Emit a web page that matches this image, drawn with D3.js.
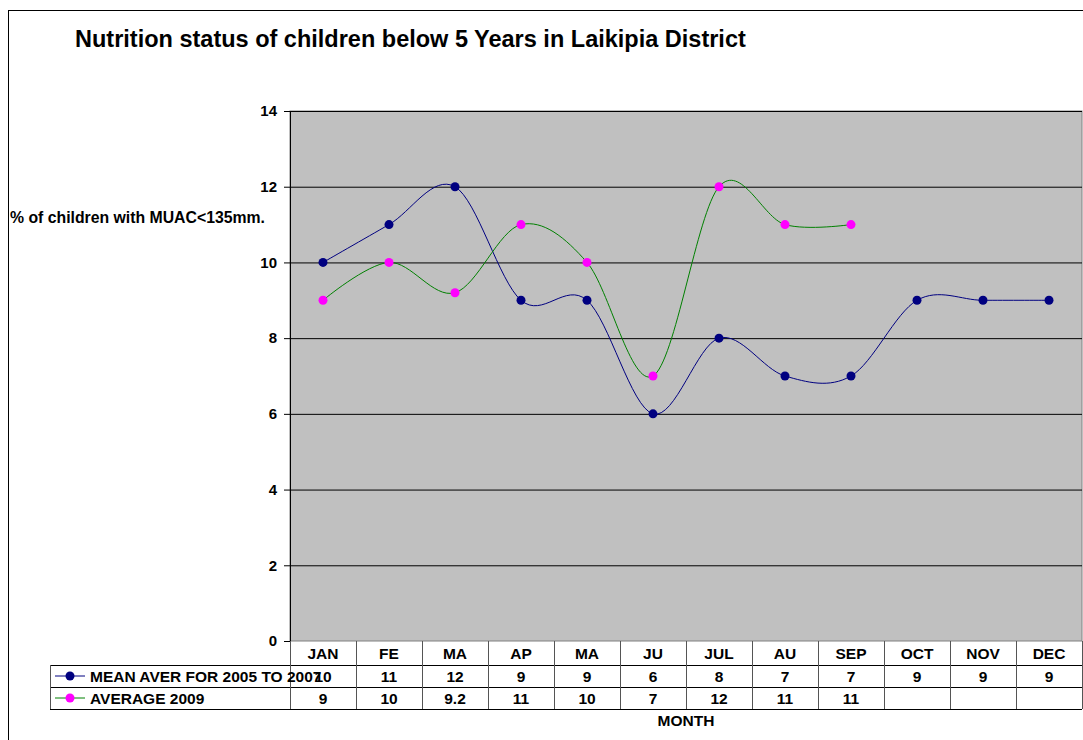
<!DOCTYPE html>
<html>
<head>
<meta charset="utf-8">
<script src="https://cdn.jsdelivr.net/npm/d3@7"></script>
<style>
  body { margin: 0; background: #fff; }
  svg text { font-family: "Liberation Sans", Arial, sans-serif; font-weight: bold; fill: #000; }
</style>
</head>
<body>
<div id="chart"></div>
<script>
// data
const months = ["JAN", "FE", "MA", "AP", "MA", "JU", "JUL", "AU", "SEP", "OCT", "NOV", "DEC"];
const meanAver = [10, 11, 12, 9, 9, 6, 8, 7, 7, 9, 9, 9];
const average2009 = [9, 10, 9.2, 11, 10, 7, 12, 11, 11, null, null, null];
const yTicks = [0, 2, 4, 6, 8, 10, 12, 14];
const seriesNames = ["MEAN AVER FOR 2005 TO 2007", "AVERAGE 2009"];

const width = 1083, height = 740;
const plot = {left: 290, right: 1082, top: 111, bottom: 641};

const svg = d3.select("#chart").append("svg")
    .attr("width", width)
    .attr("height", height);

// outer chart frame
svg.append("rect")
    .attr("x", 8.5).attr("y", 10.5)
    .attr("width", 1100).attr("height", 760)
    .attr("fill", "none").attr("stroke", "#000").attr("stroke-width", 1);

svg.append("text")
    .attr("x", 75).attr("y", 47)
    .style("font-size", "23.5px")
    .text("Nutrition status of children below 5 Years in Laikipia District");

const x = d3.scaleBand()
    .domain(d3.range(months.length))
    .range([plot.left, plot.right]);

const y = d3.scaleLinear()
    .domain([0, 14])
    .range([plot.bottom, plot.top]);

svg.append("rect")
    .attr("x", plot.left).attr("y", plot.top)
    .attr("width", plot.right - plot.left).attr("height", plot.bottom - plot.top)
    .attr("fill", "#c0c0c0").attr("stroke", "#808080");

// gridlines
svg.append("g").selectAll("line")
    .data(yTicks.filter(d => d > 0))
    .enter().append("line")
    .attr("x1", plot.left).attr("x2", plot.right)
    .attr("y1", d => y(d) + 0.5).attr("y2", d => y(d) + 0.5)
    .attr("stroke", "#000").attr("stroke-width", 1);

// y axis
const yAxis = svg.append("g")
    .attr("transform", `translate(${plot.left},0)`)
    .call(d3.axisLeft(y).tickValues(yTicks).tickSize(6).tickPadding(7));
yAxis.select(".domain").attr("stroke", "#000");
yAxis.selectAll(".tick line").attr("stroke", "#000");
yAxis.selectAll("text").style("font-size", "15px").attr("font-family", null);

svg.append("text")
    .attr("x", 10).attr("y", 223)
    .style("font-size", "15.8px")
    .text("% of children with MUAC<135mm.");

// series lines
const line = d3.line()
    .defined(d => d != null)
    .x((d, i) => x(i) + x.bandwidth() / 2)
    .y(d => y(d))
    .curve(d3.curveCatmullRom.alpha(0));

const series = [
  {values: meanAver, stroke: "#000080", fill: "#000080"},
  {values: average2009, stroke: "#008000", fill: "#ff00ff"}
];

series.forEach(s => {
  svg.append("path")
      .datum(s.values)
      .attr("d", line)
      .attr("fill", "none")
      .attr("stroke", s.stroke)
      .attr("stroke-width", 1);
  svg.append("g").selectAll("circle")
      .data(s.values.map((v, i) => ({v, i})).filter(d => d.v != null))
      .enter().append("circle")
      .attr("cx", d => x(d.i) + x.bandwidth() / 2)
      .attr("cy", d => y(d.v))
      .attr("r", 4.5)
      .attr("fill", s.fill);
});

// data table under the plot
const rowY = [641, 665, 687, 709];
const table = svg.append("g");
table.selectAll("line.h")
    .data(rowY.slice(1))
    .enter().append("line")
    .attr("x1", 50).attr("x2", plot.right)
    .attr("y1", d => d + 0.5).attr("y2", d => d + 0.5)
    .attr("stroke", "#000");
table.append("line")
    .attr("x1", 50.5).attr("x2", 50.5)
    .attr("y1", rowY[1]).attr("y2", rowY[3])
    .attr("stroke", "#555");
table.selectAll("line.v")
    .data(d3.range(months.length + 1))
    .enter().append("line")
    .attr("x1", i => plot.left + i * x.bandwidth() + 0.5)
    .attr("x2", i => plot.left + i * x.bandwidth() + 0.5)
    .attr("y1", rowY[0]).attr("y2", rowY[3])
    .attr("stroke", "#555");

table.selectAll("text.m")
    .data(months)
    .enter().append("text")
    .attr("x", (d, i) => x(i) + x.bandwidth() / 2)
    .attr("y", 659)
    .attr("text-anchor", "middle")
    .style("font-size", "15.5px")
    .text(d => d);

series.forEach((s, k) => {
  const cy = (rowY[k + 1] + rowY[k + 2]) / 2;
  table.append("line")
      .attr("x1", 55).attr("x2", 85)
      .attr("y1", cy).attr("y2", cy)
      .attr("stroke", s.stroke);
  table.append("circle")
      .attr("cx", 70).attr("cy", cy).attr("r", 4.5)
      .attr("fill", s.fill);
  table.selectAll(null)
      .data(s.values.map((v, i) => ({v, i})).filter(d => d.v != null))
      .enter().append("text")
      .attr("x", d => x(d.i) + x.bandwidth() / 2)
      .attr("y", cy + 6)
      .attr("text-anchor", "middle")
      .style("font-size", "15.5px")
      .text(d => d.v);
  table.append("text")
      .attr("x", 90).attr("y", cy + 6)
      .style("font-size", "15.5px")
      .text(seriesNames[k]);
});

svg.append("text")
    .attr("x", 686).attr("y", 726)
    .attr("text-anchor", "middle")
    .style("font-size", "15.5px")
    .text("MONTH");
</script>
</body>
</html>
